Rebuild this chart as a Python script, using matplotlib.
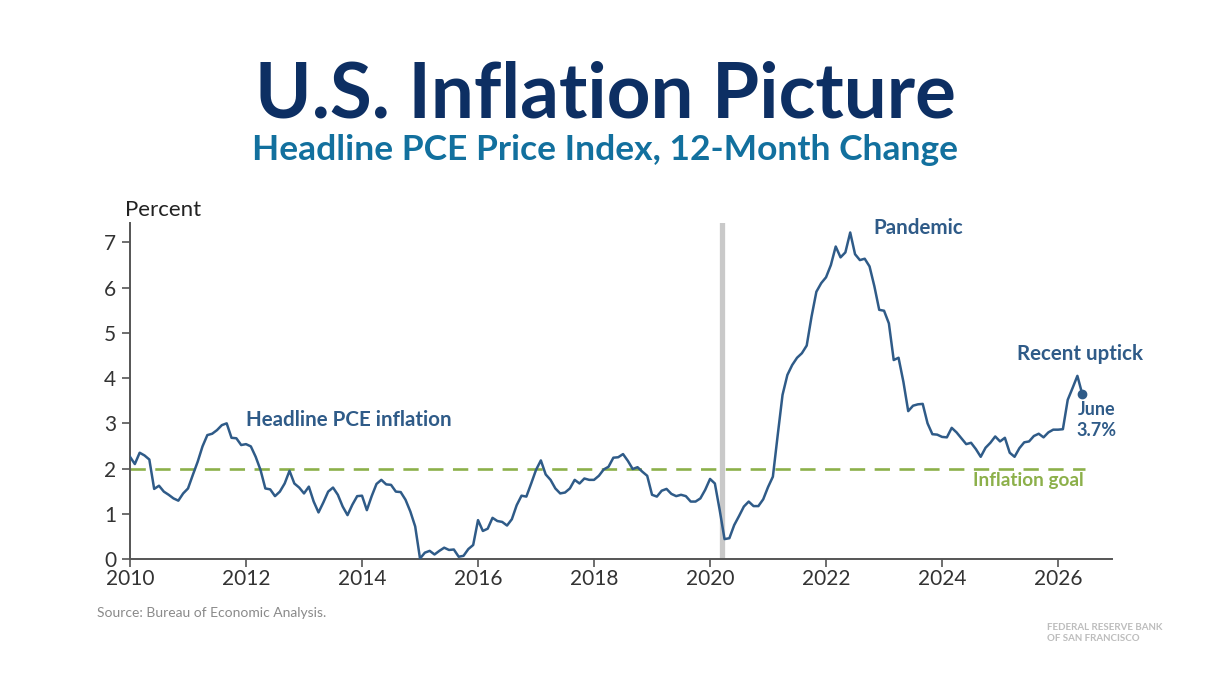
import numpy as np
import matplotlib.pyplot as plt

# monthly 12-month % change, headline PCE
pce_2010 = [2.26, 2.10, 2.35, 2.29, 2.20, 1.55, 1.62, 1.49, 1.42, 1.34, 1.29, 1.45]
pce_2011 = [1.56, 1.86, 2.15, 2.49, 2.74, 2.77, 2.85, 2.96, 3.00, 2.68, 2.67, 2.52]
pce_2012 = [2.54, 2.49, 2.26, 1.97, 1.56, 1.54, 1.39, 1.49, 1.67, 1.95, 1.67, 1.58]
pce_2013 = [1.45, 1.60, 1.27, 1.03, 1.25, 1.49, 1.58, 1.42, 1.16, 0.97, 1.20, 1.39]
pce_2014 = [1.40, 1.08, 1.39, 1.66, 1.75, 1.65, 1.64, 1.49, 1.48, 1.31, 1.05, 0.72]
pce_2015 = [0.01, 0.14, 0.18, 0.10, 0.18, 0.25, 0.20, 0.21, 0.05, 0.07, 0.22, 0.31]
pce_2016 = [0.86, 0.62, 0.67, 0.91, 0.84, 0.82, 0.74, 0.88, 1.19, 1.40, 1.38, 1.67]
pce_2017 = [1.97, 2.18, 1.87, 1.75, 1.56, 1.45, 1.47, 1.56, 1.75, 1.67, 1.78, 1.75]
pce_2018 = [1.75, 1.84, 1.98, 2.04, 2.24, 2.25, 2.32, 2.17, 1.99, 2.03, 1.93, 1.84]
pce_2019 = [1.42, 1.38, 1.51, 1.55, 1.44, 1.39, 1.42, 1.39, 1.27, 1.27, 1.34, 1.53]
pce_2020 = [1.77, 1.67, 1.08, 0.44, 0.46, 0.75, 0.95, 1.16, 1.27, 1.17, 1.17, 1.32]
pce_2021 = [1.59, 1.82, 2.74, 3.63, 4.07, 4.29, 4.45, 4.55, 4.72, 5.36, 5.91, 6.10]
pce_2022 = [6.23, 6.50, 6.91, 6.67, 6.78, 7.22, 6.74, 6.61, 6.64, 6.47, 6.03, 5.51]
pce_2023 = [5.49, 5.21, 4.40, 4.45, 3.92, 3.27, 3.39, 3.42, 3.43, 3.00, 2.76, 2.75]
pce_2024 = [2.70, 2.69, 2.90, 2.80, 2.67, 2.54, 2.57, 2.43, 2.26, 2.46, 2.57, 2.71]
pce_2025 = [2.60, 2.68, 2.35, 2.26, 2.45, 2.58, 2.60, 2.72, 2.77, 2.69, 2.80, 2.86]
pce_2026 = [2.86, 2.87, 3.52, 3.78, 4.05, 3.65]

pce = (pce_2010 + pce_2011 + pce_2012 + pce_2013 + pce_2014 + pce_2015
       + pce_2016 + pce_2017 + pce_2018 + pce_2019 + pce_2020 + pce_2021
       + pce_2022 + pce_2023 + pce_2024 + pce_2025 + pce_2026)
t = 2010 + np.arange(len(pce)) / 12.0

goal = 2.0
pandemic_start = 2020.21
xticks = [2010, 2012, 2014, 2016, 2018, 2020, 2022, 2024, 2026]
yticks = [0, 1, 2, 3, 4, 5, 6, 7]

navy = '#0d2f63'
teal = '#12709e'
line_col = '#2f5b88'
green = '#8cb04a'

plt.rcParams['font.family'] = ['Lato', 'DejaVu Sans']

fig = plt.figure(figsize=(12.1, 6.8), dpi=100)
fig.patch.set_facecolor('white')

fig.text(0.5, 0.860, 'U.S. Inflation Picture', ha='center', va='center',
         fontsize=55, fontweight='bold', color=navy)
fig.text(0.5, 0.780, 'Headline PCE Price Index, 12-Month Change', ha='center',
         va='center', fontsize=25.5, fontweight='bold', color=teal)

ax = fig.add_axes([130/1210, 121/680, (1112-130)/1210, (559-223)/680])
ax.axvline(pandemic_start, color='#c9c9c9', lw=3.8, zorder=1)
ax.plot([t[0], 2026.47], [goal, goal], color=green, lw=1.9,
        dashes=(5.8, 3.6), zorder=2)
ax.plot(t, pce, color=line_col, lw=1.8, zorder=3)
ax.plot(t[-1], pce[-1], 'o', color=line_col, ms=6, zorder=4)

ax.set_xlim(2010, 2026.93)
ax.set_ylim(0, 7.43)
ax.set_xticks(xticks)
ax.set_yticks(yticks)
ax.set_xticklabels([str(x) for x in xticks])
for s in ['top', 'right']:
    ax.spines[s].set_visible(False)
for s in ['left', 'bottom']:
    ax.spines[s].set_color('#555555')
    ax.spines[s].set_linewidth(1.4)
ax.tick_params(axis='both', colors='#555555', labelcolor='#333333',
               labelsize=15, width=1.2, length=6)
ax.tick_params(axis='x', pad=1)
ax.tick_params(axis='y', pad=4)

ax.text(2009.92, 7.5, 'Percent', ha='left', va='bottom', fontsize=16,
        color='#222222')

ax.text(2012.0, 3.08, 'Headline PCE inflation', ha='left', va='center',
        fontsize=14.8, fontweight='bold', color=line_col)
ax.text(2022.81, 7.32, 'Pandemic', ha='left', va='center',
        fontsize=14.8, fontweight='bold', color=line_col)
ax.text(2025.29, 4.54, 'Recent uptick', ha='left', va='center',
        fontsize=14.8, fontweight='bold', color=line_col)
ax.text(2026.66, 3.07, 'June\n3.7%', ha='center', va='center',
        fontsize=13, fontweight='bold', color=line_col, linespacing=1.25)
ax.text(2025.48, 1.73, 'Inflation goal', ha='center', va='center',
        fontsize=13.6, fontweight='bold', color=green)

fig.text(97/1210, 1 - 613/680, 'Source: Bureau of Economic Analysis.',
         ha='left', va='center', fontsize=10, color='#8a8a8a')
fig.text(1047/1210, 1 - 633/680, 'FEDERAL RESERVE BANK\nOF SAN FRANCISCO',
         ha='left', va='center', fontsize=7.0, fontweight='bold',
         color='#bdbdbd', linespacing=1.2)

fig.savefig('out.png', dpi=100, facecolor='white')
